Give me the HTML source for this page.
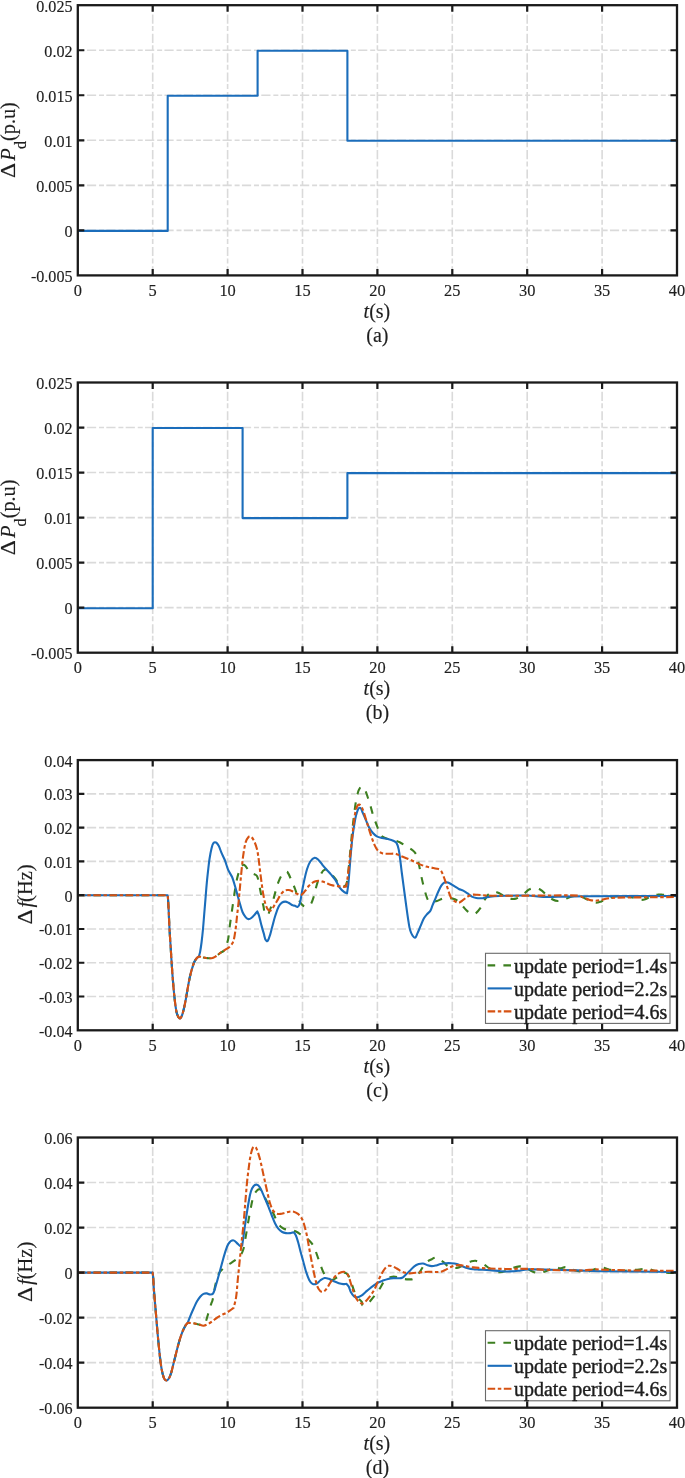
<!DOCTYPE html><html><head><meta charset="utf-8"><style>html,body{margin:0;padding:0;background:#fff;width:685px;height:1478px;overflow:hidden}svg{display:block}text{font-family:"Liberation Serif",serif;fill:#1e1e1e;stroke:#1e1e1e;stroke-width:0.15px}svg{will-change:transform}</style></head><body>
<svg width="685" height="1478" viewBox="0 0 685 1478">
<path d="M77.80 50.23H677.00M77.80 95.27H677.00M77.80 140.30H677.00M77.80 185.33H677.00M77.80 230.37H677.00" stroke="#dadada" stroke-width="1.6" fill="none" stroke-dasharray="5 2.3 9.2 2.87" stroke-dashoffset="17.52"/>
<path d="M152.70 275.40V5.20M227.60 275.40V5.20M302.50 275.40V5.20M377.40 275.40V5.20M452.30 275.40V5.20M527.20 275.40V5.20M602.10 275.40V5.20" stroke="#dadada" stroke-width="1.6" fill="none" stroke-dasharray="5 2.3 9.2 2.87" stroke-dashoffset="7.37"/>
<path d="M77.8 230.9 L167.7 230.9 L167.7 95.8 L257.6 95.8 L257.6 50.7 L347.4 50.7 L347.4 140.8 L677.0 140.8" stroke="#1b6dbb" stroke-width="2.1" fill="none" stroke-linejoin="round"/>
<path d="M77.80 50.23h6.5M677.00 50.23h-6.5M77.80 95.27h6.5M677.00 95.27h-6.5M77.80 140.30h6.5M677.00 140.30h-6.5M77.80 185.33h6.5M677.00 185.33h-6.5M77.80 230.37h6.5M677.00 230.37h-6.5M152.70 275.40v-6.5M152.70 5.20v6.5M227.60 275.40v-6.5M227.60 5.20v6.5M302.50 275.40v-6.5M302.50 5.20v6.5M377.40 275.40v-6.5M377.40 5.20v6.5M452.30 275.40v-6.5M452.30 5.20v6.5M527.20 275.40v-6.5M527.20 5.20v6.5M602.10 275.40v-6.5M602.10 5.20v6.5" stroke="#1a1a1a" stroke-width="2.2" fill="none"/>
<rect x="77.80" y="5.20" width="599.20" height="270.20" fill="none" stroke="#1a1a1a" stroke-width="2.3"/>
<text transform="translate(72.6 281.80) scale(0.95 1)" font-size="17" text-anchor="end">-0.005</text>
<text transform="translate(72.6 236.77) scale(0.95 1)" font-size="17" text-anchor="end">0</text>
<text transform="translate(72.6 191.73) scale(0.95 1)" font-size="17" text-anchor="end">0.005</text>
<text transform="translate(72.6 146.70) scale(0.95 1)" font-size="17" text-anchor="end">0.01</text>
<text transform="translate(72.6 101.67) scale(0.95 1)" font-size="17" text-anchor="end">0.015</text>
<text transform="translate(72.6 56.63) scale(0.95 1)" font-size="17" text-anchor="end">0.02</text>
<text transform="translate(72.6 11.60) scale(0.95 1)" font-size="17" text-anchor="end">0.025</text>
<text x="77.80" y="295.90" font-size="16.4" text-anchor="middle">0</text>
<text x="152.70" y="295.90" font-size="16.4" text-anchor="middle">5</text>
<text x="227.60" y="295.90" font-size="16.4" text-anchor="middle">10</text>
<text x="302.50" y="295.90" font-size="16.4" text-anchor="middle">15</text>
<text x="377.40" y="295.90" font-size="16.4" text-anchor="middle">20</text>
<text x="452.30" y="295.90" font-size="16.4" text-anchor="middle">25</text>
<text x="527.20" y="295.90" font-size="16.4" text-anchor="middle">30</text>
<text x="602.10" y="295.90" font-size="16.4" text-anchor="middle">35</text>
<text x="677.00" y="295.90" font-size="16.4" text-anchor="middle">40</text>
<text x="376.90" y="318.10" font-size="20" text-anchor="middle"><tspan font-style="italic">t</tspan>(s)</text>
<text x="377.40" y="341.80" font-size="20" text-anchor="middle">(a)</text>
<g transform="translate(15.3 140.30) rotate(-90)"><g transform="translate(-36.85 0) scale(1.14,1)"><text x="-0.8" y="0" font-size="20.5">Δ</text></g><text x="-20.45" y="0" font-size="20.5" font-style="italic">P</text><text x="-8.8" y="10.8" font-size="16">d</text><text x="-0.65" y="0" font-size="20.2">(p.u)</text></g>
<path d="M77.80 427.53H677.00M77.80 472.57H677.00M77.80 517.60H677.00M77.80 562.63H677.00M77.80 607.67H677.00" stroke="#dadada" stroke-width="1.6" fill="none" stroke-dasharray="5 2.3 9.2 2.87" stroke-dashoffset="17.52"/>
<path d="M152.70 652.70V382.50M227.60 652.70V382.50M302.50 652.70V382.50M377.40 652.70V382.50M452.30 652.70V382.50M527.20 652.70V382.50M602.10 652.70V382.50" stroke="#dadada" stroke-width="1.6" fill="none" stroke-dasharray="5 2.3 9.2 2.87" stroke-dashoffset="7.37"/>
<path d="M77.8 608.2 L152.7 608.2 L152.7 428.0 L242.6 428.0 L242.6 518.1 L347.4 518.1 L347.4 473.1 L677.0 473.1" stroke="#1b6dbb" stroke-width="2.1" fill="none" stroke-linejoin="round"/>
<path d="M77.80 427.53h6.5M677.00 427.53h-6.5M77.80 472.57h6.5M677.00 472.57h-6.5M77.80 517.60h6.5M677.00 517.60h-6.5M77.80 562.63h6.5M677.00 562.63h-6.5M77.80 607.67h6.5M677.00 607.67h-6.5M152.70 652.70v-6.5M152.70 382.50v6.5M227.60 652.70v-6.5M227.60 382.50v6.5M302.50 652.70v-6.5M302.50 382.50v6.5M377.40 652.70v-6.5M377.40 382.50v6.5M452.30 652.70v-6.5M452.30 382.50v6.5M527.20 652.70v-6.5M527.20 382.50v6.5M602.10 652.70v-6.5M602.10 382.50v6.5" stroke="#1a1a1a" stroke-width="2.2" fill="none"/>
<rect x="77.80" y="382.50" width="599.20" height="270.20" fill="none" stroke="#1a1a1a" stroke-width="2.3"/>
<text transform="translate(72.6 659.10) scale(0.95 1)" font-size="17" text-anchor="end">-0.005</text>
<text transform="translate(72.6 614.07) scale(0.95 1)" font-size="17" text-anchor="end">0</text>
<text transform="translate(72.6 569.03) scale(0.95 1)" font-size="17" text-anchor="end">0.005</text>
<text transform="translate(72.6 524.00) scale(0.95 1)" font-size="17" text-anchor="end">0.01</text>
<text transform="translate(72.6 478.97) scale(0.95 1)" font-size="17" text-anchor="end">0.015</text>
<text transform="translate(72.6 433.93) scale(0.95 1)" font-size="17" text-anchor="end">0.02</text>
<text transform="translate(72.6 388.90) scale(0.95 1)" font-size="17" text-anchor="end">0.025</text>
<text x="77.80" y="673.20" font-size="16.4" text-anchor="middle">0</text>
<text x="152.70" y="673.20" font-size="16.4" text-anchor="middle">5</text>
<text x="227.60" y="673.20" font-size="16.4" text-anchor="middle">10</text>
<text x="302.50" y="673.20" font-size="16.4" text-anchor="middle">15</text>
<text x="377.40" y="673.20" font-size="16.4" text-anchor="middle">20</text>
<text x="452.30" y="673.20" font-size="16.4" text-anchor="middle">25</text>
<text x="527.20" y="673.20" font-size="16.4" text-anchor="middle">30</text>
<text x="602.10" y="673.20" font-size="16.4" text-anchor="middle">35</text>
<text x="677.00" y="673.20" font-size="16.4" text-anchor="middle">40</text>
<text x="376.90" y="695.40" font-size="20" text-anchor="middle"><tspan font-style="italic">t</tspan>(s)</text>
<text x="377.40" y="719.10" font-size="20" text-anchor="middle">(b)</text>
<g transform="translate(15.3 517.60) rotate(-90)"><g transform="translate(-36.85 0) scale(1.14,1)"><text x="-0.8" y="0" font-size="20.5">Δ</text></g><text x="-20.45" y="0" font-size="20.5" font-style="italic">P</text><text x="-8.8" y="10.8" font-size="16">d</text><text x="-0.65" y="0" font-size="20.2">(p.u)</text></g>
<path d="M77.80 793.88H677.00M77.80 827.65H677.00M77.80 861.42H677.00M77.80 895.20H677.00M77.80 928.98H677.00M77.80 962.75H677.00M77.80 996.52H677.00" stroke="#dadada" stroke-width="1.6" fill="none" stroke-dasharray="5 2.3 9.2 2.87" stroke-dashoffset="17.52"/>
<path d="M152.70 1030.30V760.10M227.60 1030.30V760.10M302.50 1030.30V760.10M377.40 1030.30V760.10M452.30 1030.30V760.10M527.20 1030.30V760.10M602.10 1030.30V760.10" stroke="#dadada" stroke-width="1.6" fill="none" stroke-dasharray="5 2.3 9.2 2.87" stroke-dashoffset="7.37"/>
<path d="M77.80 895.20C107.70 895.20 137.60 895.20 167.50 895.20C167.63 895.90 167.84 896.59 167.90 897.30C168.21 901.26 168.40 905.23 168.60 909.20C168.93 915.80 169.14 922.40 169.50 929.00C169.81 934.67 170.24 940.33 170.60 946.00C170.94 951.33 171.24 956.67 171.60 962.00C171.98 967.67 172.34 973.34 172.80 979.00C173.30 985.17 173.81 991.35 174.50 997.50C175.04 1002.35 175.53 1007.22 176.50 1012.00C176.87 1013.85 177.59 1015.64 178.50 1017.30C178.80 1017.84 179.42 1018.63 180.00 1018.40C180.93 1018.03 181.42 1016.92 181.80 1016.00C182.67 1013.88 183.16 1011.62 183.70 1009.40C184.46 1006.29 185.10 1003.15 185.70 1000.00C186.44 996.11 187.00 992.19 187.70 988.30C188.33 984.79 188.95 981.28 189.70 977.80C190.28 975.11 190.93 972.44 191.70 969.80C192.47 967.17 193.19 964.51 194.30 962.00C194.94 960.54 195.87 959.21 196.90 958.00C197.43 957.38 198.09 956.71 198.90 956.60C200.01 956.45 201.10 957.09 202.20 957.30C203.53 957.55 204.85 957.87 206.20 958.00C207.96 958.17 209.75 958.47 211.50 958.20C212.89 957.99 214.19 957.32 215.40 956.60C217.28 955.47 218.91 953.97 220.70 952.70C221.78 951.94 223.21 951.56 224.00 950.50C225.25 948.83 225.91 946.77 226.60 944.80C227.34 942.69 227.93 940.51 228.30 938.30C229.03 933.93 229.31 929.49 229.90 925.10C230.58 919.99 231.37 914.90 232.10 909.80C232.83 904.70 233.51 899.59 234.30 894.50C234.98 890.09 235.62 885.67 236.50 881.30C237.09 878.37 237.76 875.44 238.70 872.60C239.40 870.49 240.11 868.31 241.40 866.50C242.02 865.63 243.26 864.38 244.20 864.90C246.24 866.02 246.88 868.73 248.50 870.40C249.67 871.61 251.09 872.58 252.50 873.50C253.86 874.39 255.92 874.43 256.80 875.80C258.23 878.04 258.30 880.91 258.90 883.50C259.74 887.14 260.36 890.83 261.10 894.50C261.83 898.13 262.35 901.82 263.30 905.40C264.19 908.76 263.71 913.37 266.60 915.30C268.38 916.49 269.05 911.76 269.90 909.80C271.27 906.64 272.21 903.30 273.20 900.00C274.41 896.00 275.32 891.91 276.50 887.90C277.15 885.68 277.83 883.45 278.70 881.30C279.47 879.41 280.29 877.52 281.40 875.80C282.31 874.39 283.28 872.90 284.70 872.00C285.46 871.52 286.85 871.28 287.40 872.00C289.48 874.73 290.39 878.18 291.80 881.30C292.95 883.84 294.11 886.39 295.10 889.00C296.32 892.23 297.04 895.63 298.40 898.80C299.22 900.72 300.24 902.61 301.60 904.20C302.46 905.20 303.59 906.22 304.90 906.40C306.56 906.62 308.58 906.45 309.80 905.30C311.59 903.62 312.31 901.03 313.10 898.70C314.68 894.06 315.45 889.18 316.90 884.50C317.82 881.51 318.71 878.46 320.20 875.70C321.44 873.40 322.48 870.19 325.00 869.50C326.96 868.96 328.49 871.64 330.00 873.00C332.01 874.82 333.82 876.87 335.50 879.00C337.13 881.08 337.91 883.86 339.90 885.60C341.04 886.60 342.83 886.33 344.30 886.70C345.03 885.80 346.20 885.12 346.50 884.00C347.56 880.10 347.84 876.02 348.30 872.00C349.07 865.35 349.57 858.67 350.20 852.00C350.90 844.67 351.53 837.33 352.30 830.00C352.90 824.33 353.58 818.66 354.30 813.00C354.81 808.99 355.33 804.98 356.00 801.00C356.40 798.65 356.88 796.30 357.50 794.00C357.94 792.36 358.33 790.66 359.20 789.20C359.87 788.09 360.70 786.50 362.00 786.50C363.27 786.50 364.11 788.07 364.70 789.20C366.15 791.98 366.99 795.03 368.00 798.00C368.99 800.90 369.83 803.86 370.70 806.80C371.66 810.06 372.44 813.37 373.50 816.60C374.48 819.58 375.66 822.48 376.80 825.40C377.66 827.58 378.41 829.82 379.50 831.90C380.42 833.67 381.22 835.68 382.80 836.90C384.48 838.20 386.76 838.48 388.80 839.10C390.97 839.75 393.23 840.06 395.40 840.70C396.87 841.13 398.33 841.61 399.70 842.30C401.98 843.45 404.13 844.85 406.30 846.20C408.53 847.59 410.89 848.81 412.90 850.50C414.22 851.61 415.44 852.95 416.20 854.50C417.28 856.72 417.73 859.20 418.30 861.60C419.33 865.94 420.07 870.34 421.00 874.70C421.70 878.01 422.39 881.32 423.20 884.60C424.02 887.92 424.81 891.26 425.90 894.50C426.65 896.74 427.21 899.17 428.70 901.00C429.43 901.89 430.85 902.00 432.00 902.00C433.67 902.00 435.32 901.52 436.90 901.00C438.80 900.38 440.48 899.17 442.40 898.60C443.88 898.16 445.45 897.97 447.00 898.00C449.12 898.04 451.28 898.18 453.30 898.80C455.27 899.40 457.19 900.32 458.80 901.60C460.48 902.94 461.56 904.90 463.00 906.50C464.50 908.17 465.85 910.00 467.60 911.40C468.86 912.40 470.40 913.01 471.90 913.60C472.79 913.95 473.91 914.74 474.70 914.20C477.16 912.53 478.99 910.03 480.70 907.60C482.12 905.59 482.82 903.16 484.00 901.00C484.82 899.49 485.74 898.03 486.70 896.60C487.24 895.79 487.70 894.86 488.50 894.30C490.12 893.16 491.82 891.76 493.80 891.60C495.82 891.44 497.76 892.55 499.60 893.40C501.66 894.36 503.34 896.03 505.40 897.00C507.27 897.88 509.25 898.62 511.30 898.90C512.99 899.13 514.79 899.06 516.40 898.50C518.78 897.67 520.94 896.26 523.00 894.80C525.10 893.31 526.64 891.10 528.80 889.70C530.10 888.86 531.65 888.20 533.20 888.20C535.68 888.20 538.28 888.58 540.50 889.70C542.80 890.86 544.30 893.18 546.30 894.80C548.20 896.35 550.03 898.05 552.20 899.20C553.99 900.15 555.98 901.00 558.00 901.00C560.28 901.00 562.43 899.90 564.60 899.20C567.30 898.33 569.88 897.09 572.60 896.30C574.36 895.79 576.20 894.99 578.00 895.30C580.62 895.75 582.89 897.38 585.30 898.50C587.26 899.41 589.09 900.61 591.10 901.40C592.74 902.05 594.44 902.80 596.20 902.80C598.00 902.80 599.69 901.96 601.40 901.40C603.37 900.76 605.27 899.93 607.20 899.20C609.13 898.47 610.97 897.37 613.00 897.00C616.85 896.30 620.79 895.75 624.70 896.00C628.68 896.26 632.52 897.56 636.40 898.50C637.90 898.86 639.27 899.78 640.80 899.90C642.28 900.02 643.80 899.69 645.20 899.20C647.24 898.48 648.97 897.03 651.00 896.30C653.36 895.45 655.81 894.82 658.30 894.50C659.76 894.31 661.23 894.68 662.70 894.80C667.47 895.18 672.23 895.60 677.00 896.00" stroke="#3d7f20" stroke-dasharray="7.6 8.2" stroke-width="2.1" fill="none" stroke-linejoin="round"/><path d="M77.80 895.20C107.70 895.20 137.60 895.20 167.50 895.20C167.63 895.90 167.84 896.59 167.90 897.30C168.21 901.26 168.40 905.23 168.60 909.20C168.93 915.80 169.14 922.40 169.50 929.00C169.81 934.67 170.24 940.33 170.60 946.00C170.94 951.33 171.24 956.67 171.60 962.00C171.98 967.67 172.34 973.34 172.80 979.00C173.30 985.17 173.81 991.35 174.50 997.50C175.04 1002.35 175.53 1007.22 176.50 1012.00C176.87 1013.85 177.59 1015.64 178.50 1017.30C178.80 1017.84 179.42 1018.63 180.00 1018.40C180.93 1018.03 181.42 1016.92 181.80 1016.00C182.67 1013.88 183.16 1011.62 183.70 1009.40C184.46 1006.29 185.10 1003.15 185.70 1000.00C186.44 996.11 187.00 992.19 187.70 988.30C188.33 984.79 188.95 981.28 189.70 977.80C190.28 975.11 190.93 972.44 191.70 969.80C192.47 967.17 193.19 964.51 194.30 962.00C194.94 960.54 195.87 959.21 196.90 958.00C197.43 957.38 198.23 957.07 198.90 956.60C199.33 954.87 199.88 953.16 200.20 951.40C200.78 948.28 201.20 945.14 201.60 942.00C202.10 938.01 202.52 934.01 202.90 930.00C203.39 924.80 203.77 919.60 204.20 914.40C204.64 909.13 205.07 903.87 205.50 898.60C205.93 893.33 206.31 888.06 206.80 882.80C207.21 878.39 207.70 874.00 208.20 869.60C208.60 866.06 208.95 862.52 209.50 859.00C210.05 855.48 210.65 851.96 211.50 848.50C211.95 846.68 212.27 844.70 213.40 843.20C213.94 842.48 215.19 842.10 216.00 842.50C217.28 843.13 218.03 844.55 218.70 845.80C219.82 847.88 220.37 850.23 221.30 852.40C222.47 855.13 223.91 857.74 225.00 860.50C226.25 863.68 226.95 867.06 228.30 870.20C229.33 872.59 231.08 874.61 232.10 877.00C233.29 879.80 234.03 882.78 234.90 885.70C235.87 888.95 236.69 892.24 237.60 895.50C238.32 898.07 239.04 900.64 239.80 903.20C240.67 906.14 241.31 909.17 242.50 912.00C243.32 913.94 244.44 915.79 245.80 917.40C246.49 918.21 247.44 918.98 248.50 919.10C249.50 919.21 250.49 918.59 251.30 918.00C252.56 917.09 253.55 915.85 254.60 914.70C255.56 913.65 256.40 912.50 257.30 911.40C257.83 912.70 258.49 913.95 258.90 915.30C259.76 918.16 260.32 921.11 261.10 924.00C261.99 927.31 262.84 930.64 263.90 933.90C264.68 936.31 264.44 939.68 266.60 941.00C267.93 941.81 268.72 938.64 269.30 937.20C270.58 934.02 271.18 930.60 272.10 927.30C273.21 923.30 274.15 919.25 275.40 915.30C276.35 912.31 277.26 909.28 278.70 906.50C279.46 905.03 280.58 903.70 281.90 902.70C282.83 902.00 284.04 901.60 285.20 901.60C286.36 901.60 287.46 902.19 288.50 902.70C290.04 903.46 291.35 904.66 292.90 905.40C293.54 905.71 294.32 905.59 295.00 905.80C295.93 906.09 296.85 907.37 297.70 906.90C298.98 906.19 299.51 904.51 299.90 903.10C300.99 899.18 301.34 895.09 302.10 891.10C302.80 887.43 303.48 883.75 304.30 880.10C305.12 876.45 305.85 872.76 307.00 869.20C307.86 866.54 308.75 863.82 310.30 861.50C311.38 859.89 312.80 858.07 314.70 857.70C316.14 857.42 317.42 858.91 318.50 859.90C320.03 861.32 321.07 863.19 322.40 864.80C323.64 866.29 324.91 867.75 326.20 869.20C327.81 871.02 329.52 872.75 331.10 874.60C332.62 876.39 334.20 878.15 335.50 880.10C337.14 882.56 338.16 885.41 339.90 887.80C341.12 889.48 342.66 890.93 344.30 892.20C345.07 892.80 346.10 892.93 347.00 893.30C347.43 890.37 347.98 887.45 348.30 884.50C348.78 880.14 349.04 875.77 349.40 871.40C349.94 864.80 350.40 858.19 351.00 851.60C351.50 846.13 352.01 840.65 352.70 835.20C353.31 830.45 354.02 825.71 354.90 821.00C355.45 818.04 355.95 815.03 357.00 812.20C357.60 810.57 358.06 807.80 359.80 807.80C361.52 807.80 361.74 810.66 362.50 812.20C363.74 814.70 364.70 817.33 365.80 819.90C366.90 822.47 367.77 825.14 369.10 827.60C370.15 829.54 371.44 831.35 372.90 833.00C374.03 834.28 375.30 835.49 376.80 836.30C378.46 837.19 380.37 837.53 382.20 838.00C384.01 838.47 385.88 838.65 387.70 839.10C389.55 839.56 391.45 839.94 393.20 840.70C394.41 841.22 395.80 841.78 396.50 842.90C397.73 844.87 398.21 847.23 398.70 849.50C399.48 853.09 399.81 856.76 400.30 860.40C400.88 864.76 401.34 869.14 401.90 873.50C402.61 879.00 403.36 884.50 404.10 890.00C404.83 895.47 405.54 900.94 406.30 906.40C407.01 911.50 407.68 916.61 408.50 921.70C408.95 924.48 409.32 927.29 410.10 930.00C410.66 931.92 411.43 933.81 412.50 935.50C413.10 936.44 413.95 938.06 415.00 937.70C416.39 937.23 416.57 935.22 417.20 933.90C418.40 931.38 419.40 928.77 420.50 926.20C421.60 923.63 422.47 920.96 423.80 918.50C424.65 916.93 425.84 915.56 427.00 914.20C428.01 913.02 429.48 912.22 430.30 910.90C431.35 909.23 431.75 907.22 432.50 905.40C433.41 903.19 434.37 901.00 435.30 898.80C436.21 896.64 437.02 894.43 438.00 892.30C439.02 890.06 439.94 887.75 441.30 885.70C442.16 884.41 443.29 883.24 444.60 882.40C445.22 882.00 446.07 882.27 446.80 882.20C447.87 882.63 448.98 882.96 450.00 883.50C451.52 884.30 452.94 885.29 454.40 886.20C455.87 887.12 457.25 888.22 458.80 889.00C460.20 889.70 461.80 889.90 463.20 890.60C464.75 891.38 466.17 892.41 467.60 893.40C469.07 894.41 470.32 895.76 471.90 896.60C473.26 897.32 474.79 897.71 476.30 898.00C477.74 898.28 479.23 898.35 480.70 898.30C482.18 898.25 483.64 897.97 485.10 897.70C486.75 897.40 488.34 896.79 490.00 896.60C493.18 896.23 496.40 896.09 499.60 896.00C508.83 895.73 518.07 895.29 527.30 895.50C532.69 895.62 538.01 896.79 543.40 897.00C548.26 897.19 553.13 896.78 558.00 896.70C567.00 896.55 576.00 896.35 585.00 896.30C615.67 896.12 646.33 896.10 677.00 896.00" stroke="#1b6dbb" stroke-width="2.1" fill="none" stroke-linejoin="round"/><path d="M77.80 895.20C107.70 895.20 137.60 895.20 167.50 895.20C167.63 895.90 167.84 896.59 167.90 897.30C168.21 901.26 168.40 905.23 168.60 909.20C168.93 915.80 169.14 922.40 169.50 929.00C169.81 934.67 170.24 940.33 170.60 946.00C170.94 951.33 171.24 956.67 171.60 962.00C171.98 967.67 172.34 973.34 172.80 979.00C173.30 985.17 173.81 991.35 174.50 997.50C175.04 1002.35 175.53 1007.22 176.50 1012.00C176.87 1013.85 177.59 1015.64 178.50 1017.30C178.80 1017.84 179.42 1018.63 180.00 1018.40C180.93 1018.03 181.42 1016.92 181.80 1016.00C182.67 1013.88 183.16 1011.62 183.70 1009.40C184.46 1006.29 185.10 1003.15 185.70 1000.00C186.44 996.11 187.00 992.19 187.70 988.30C188.33 984.79 188.95 981.28 189.70 977.80C190.28 975.11 190.93 972.44 191.70 969.80C192.47 967.17 193.19 964.51 194.30 962.00C194.94 960.54 195.87 959.21 196.90 958.00C197.43 957.38 198.09 956.71 198.90 956.60C200.01 956.45 201.10 957.09 202.20 957.30C203.53 957.55 204.85 957.87 206.20 958.00C207.96 958.17 209.75 958.47 211.50 958.20C212.89 957.99 214.19 957.32 215.40 956.60C217.28 955.47 218.91 953.97 220.70 952.70C222.11 951.70 223.55 950.75 225.00 949.80C226.45 948.85 228.18 948.24 229.40 947.00C230.97 945.41 232.43 943.59 233.20 941.50C234.47 938.02 234.85 934.26 235.40 930.60C236.11 925.89 236.47 921.13 237.00 916.40C237.57 911.27 238.18 906.14 238.70 901.00C239.28 895.17 239.75 889.33 240.30 883.50C240.85 877.67 241.37 871.83 242.00 866.00C242.47 861.59 242.91 857.18 243.60 852.80C244.18 849.14 244.70 845.44 245.80 841.90C246.35 840.12 247.26 838.39 248.50 837.00C249.01 836.43 250.07 835.97 250.70 836.40C252.21 837.44 253.17 839.16 254.00 840.80C255.23 843.24 256.09 845.86 256.80 848.50C257.56 851.35 257.97 854.28 258.40 857.20C259.04 861.59 259.45 866.00 260.00 870.40C260.55 874.77 261.10 879.14 261.70 883.50C262.20 887.17 262.63 890.86 263.30 894.50C263.90 897.79 264.48 901.11 265.50 904.30C266.12 906.25 266.82 908.29 268.20 909.80C268.84 910.50 270.19 910.79 271.00 910.30C272.33 909.50 272.86 907.81 273.70 906.50C274.86 904.70 275.91 902.84 277.00 901.00C278.28 898.84 279.31 896.52 280.80 894.50C281.89 893.02 283.11 891.53 284.70 890.60C285.81 889.95 287.22 889.90 288.50 890.00C289.82 890.10 291.08 890.66 292.30 891.20C293.67 891.80 294.83 892.82 296.20 893.40C297.74 894.06 299.38 895.33 301.00 894.90C302.75 894.44 303.70 892.46 304.90 891.10C306.44 889.35 307.55 887.25 309.20 885.60C310.68 884.12 312.32 882.73 314.20 881.80C315.70 881.06 317.43 880.62 319.10 880.70C321.01 880.79 322.80 881.66 324.60 882.30C326.81 883.09 328.85 884.35 331.10 885.00C333.24 885.62 335.49 885.82 337.70 886.10C339.89 886.38 342.10 886.54 344.30 886.70C344.90 886.74 345.50 886.70 346.10 886.70C346.63 883.40 347.26 880.11 347.70 876.80C348.53 870.61 349.19 864.40 349.90 858.20C350.65 851.64 351.37 845.07 352.10 838.50C352.83 831.93 353.36 825.34 354.30 818.80C354.83 815.10 355.28 811.33 356.50 807.80C356.96 806.48 357.83 804.35 359.20 804.60C360.98 804.93 361.74 807.26 362.50 808.90C363.97 812.05 364.74 815.49 365.80 818.80C366.74 821.72 367.58 824.67 368.50 827.60C369.41 830.51 370.30 833.42 371.30 836.30C372.33 839.26 373.30 842.25 374.60 845.10C375.47 847.00 376.38 848.97 377.80 850.50C378.98 851.78 380.53 852.80 382.20 853.30C384.31 853.93 386.60 853.72 388.80 853.80C391.00 853.88 393.23 853.46 395.40 853.80C396.92 854.04 398.27 854.92 399.70 855.50C401.90 856.39 404.11 857.29 406.30 858.20C408.51 859.12 410.72 860.02 412.90 861.00C415.46 862.15 417.92 863.51 420.50 864.60C422.29 865.35 424.13 865.99 426.00 866.50C427.77 866.99 429.60 867.24 431.40 867.60C433.23 867.97 435.11 868.16 436.90 868.70C438.23 869.10 439.72 869.42 440.70 870.40C441.84 871.54 442.24 873.23 442.90 874.70C443.54 876.13 444.07 877.62 444.60 879.10C445.37 881.29 446.08 883.50 446.80 885.70C447.52 887.90 448.12 890.13 448.90 892.30C449.56 894.13 450.06 896.06 451.10 897.70C451.93 899.01 453.10 900.15 454.40 901.00C455.72 901.86 457.24 902.90 458.80 902.70C460.53 902.48 461.77 900.89 463.20 899.90C464.71 898.86 466.02 897.53 467.60 896.60C468.94 895.81 470.37 895.08 471.90 894.80C473.70 894.47 475.57 894.72 477.40 894.80C479.24 894.88 481.06 895.15 482.90 895.30C485.27 895.49 487.63 895.79 490.00 895.80C506.67 895.89 523.33 895.64 540.00 895.60C552.67 895.57 565.35 894.99 578.00 895.60C580.05 895.70 581.87 896.99 583.80 897.70C585.77 898.42 587.67 899.38 589.70 899.90C591.59 900.38 593.55 900.70 595.50 900.70C597.48 900.70 599.45 900.27 601.40 899.90C603.35 899.53 605.23 898.80 607.20 898.50C610.11 898.06 613.06 897.81 616.00 897.70C622.80 897.44 629.60 897.48 636.40 897.40C649.93 897.24 663.47 897.13 677.00 897.00" stroke="#d65212" stroke-dasharray="7.6 2.6 3.5 2.5" stroke-dashoffset="0.7" stroke-width="2.1" fill="none" stroke-linejoin="round"/>
<path d="M77.80 793.88h6.5M677.00 793.88h-6.5M77.80 827.65h6.5M677.00 827.65h-6.5M77.80 861.42h6.5M677.00 861.42h-6.5M77.80 895.20h6.5M677.00 895.20h-6.5M77.80 928.98h6.5M677.00 928.98h-6.5M77.80 962.75h6.5M677.00 962.75h-6.5M77.80 996.52h6.5M677.00 996.52h-6.5M152.70 1030.30v-6.5M152.70 760.10v6.5M227.60 1030.30v-6.5M227.60 760.10v6.5M302.50 1030.30v-6.5M302.50 760.10v6.5M377.40 1030.30v-6.5M377.40 760.10v6.5M452.30 1030.30v-6.5M452.30 760.10v6.5M527.20 1030.30v-6.5M527.20 760.10v6.5M602.10 1030.30v-6.5M602.10 760.10v6.5" stroke="#1a1a1a" stroke-width="2.2" fill="none"/>
<rect x="77.80" y="760.10" width="599.20" height="270.20" fill="none" stroke="#1a1a1a" stroke-width="2.3"/>
<text transform="translate(72.6 1036.70) scale(0.95 1)" font-size="17" text-anchor="end">-0.04</text>
<text transform="translate(72.6 1002.92) scale(0.95 1)" font-size="17" text-anchor="end">-0.03</text>
<text transform="translate(72.6 969.15) scale(0.95 1)" font-size="17" text-anchor="end">-0.02</text>
<text transform="translate(72.6 935.37) scale(0.95 1)" font-size="17" text-anchor="end">-0.01</text>
<text transform="translate(72.6 901.60) scale(0.95 1)" font-size="17" text-anchor="end">0</text>
<text transform="translate(72.6 867.82) scale(0.95 1)" font-size="17" text-anchor="end">0.01</text>
<text transform="translate(72.6 834.05) scale(0.95 1)" font-size="17" text-anchor="end">0.02</text>
<text transform="translate(72.6 800.27) scale(0.95 1)" font-size="17" text-anchor="end">0.03</text>
<text transform="translate(72.6 766.50) scale(0.95 1)" font-size="17" text-anchor="end">0.04</text>
<text x="77.80" y="1050.80" font-size="16.4" text-anchor="middle">0</text>
<text x="152.70" y="1050.80" font-size="16.4" text-anchor="middle">5</text>
<text x="227.60" y="1050.80" font-size="16.4" text-anchor="middle">10</text>
<text x="302.50" y="1050.80" font-size="16.4" text-anchor="middle">15</text>
<text x="377.40" y="1050.80" font-size="16.4" text-anchor="middle">20</text>
<text x="452.30" y="1050.80" font-size="16.4" text-anchor="middle">25</text>
<text x="527.20" y="1050.80" font-size="16.4" text-anchor="middle">30</text>
<text x="602.10" y="1050.80" font-size="16.4" text-anchor="middle">35</text>
<text x="677.00" y="1050.80" font-size="16.4" text-anchor="middle">40</text>
<text x="376.90" y="1073.00" font-size="20" text-anchor="middle"><tspan font-style="italic">t</tspan>(s)</text>
<text x="377.40" y="1096.70" font-size="20" text-anchor="middle">(c)</text>
<g transform="translate(31.8 895.20) rotate(-90)"><g transform="translate(-28.4 0) scale(1.14,1)"><text x="-0.8" y="0" font-size="20.5">Δ</text></g><text x="-12.4" y="0" font-size="20.5"><tspan font-style="italic">f</tspan>(Hz)</text></g>
<path d="M77.80 1182.53H677.00M77.80 1227.57H677.00M77.80 1272.60H677.00M77.80 1317.63H677.00M77.80 1362.67H677.00" stroke="#dadada" stroke-width="1.6" fill="none" stroke-dasharray="5 2.3 9.2 2.87" stroke-dashoffset="17.52"/>
<path d="M152.70 1407.70V1137.50M227.60 1407.70V1137.50M302.50 1407.70V1137.50M377.40 1407.70V1137.50M452.30 1407.70V1137.50M527.20 1407.70V1137.50M602.10 1407.70V1137.50" stroke="#dadada" stroke-width="1.6" fill="none" stroke-dasharray="5 2.3 9.2 2.87" stroke-dashoffset="7.37"/>
<path d="M77.80 1272.60C102.73 1272.60 127.67 1272.60 152.60 1272.60C152.77 1273.87 153.00 1275.13 153.10 1276.40C153.47 1281.16 153.65 1285.94 154.00 1290.70C154.32 1295.07 154.73 1299.43 155.10 1303.80C155.53 1308.90 155.97 1314.00 156.40 1319.10C156.83 1324.23 157.23 1329.37 157.70 1334.50C158.17 1339.60 158.66 1344.70 159.20 1349.80C159.70 1354.54 160.14 1359.28 160.80 1364.00C161.21 1366.95 161.68 1369.91 162.40 1372.80C162.95 1375.02 163.45 1377.32 164.60 1379.30C165.01 1380.01 166.00 1380.58 166.80 1380.40C167.79 1380.18 168.49 1379.18 169.00 1378.30C169.99 1376.59 170.62 1374.69 171.20 1372.80C172.09 1369.91 172.66 1366.93 173.40 1364.00C174.13 1361.10 174.87 1358.20 175.60 1355.30C176.34 1352.37 177.02 1349.42 177.80 1346.50C178.49 1343.92 179.19 1341.34 180.00 1338.80C180.82 1336.24 181.68 1333.69 182.70 1331.20C183.48 1329.31 184.35 1327.45 185.40 1325.70C186.00 1324.70 186.58 1323.55 187.60 1323.00C188.42 1322.56 189.47 1322.93 190.40 1323.00C191.84 1323.10 193.28 1323.24 194.70 1323.50C196.19 1323.77 197.63 1324.23 199.10 1324.60C200.57 1324.97 202.03 1325.33 203.50 1325.70C204.17 1324.63 205.03 1323.67 205.50 1322.50C206.51 1319.97 207.10 1317.30 207.90 1314.70C208.60 1312.40 209.30 1310.10 210.00 1307.80C210.40 1306.47 210.75 1305.12 211.20 1303.80C211.55 1302.75 212.10 1301.77 212.40 1300.70C212.83 1299.19 213.11 1297.64 213.40 1296.10C214.08 1292.51 214.44 1288.85 215.30 1285.30C216.27 1281.30 217.17 1277.23 218.90 1273.50C219.79 1271.59 221.51 1270.19 223.00 1268.70C224.29 1267.41 225.71 1266.26 227.20 1265.20C228.49 1264.28 229.97 1263.65 231.30 1262.80C232.73 1261.88 234.11 1260.89 235.50 1259.90C236.88 1258.92 238.57 1258.25 239.60 1256.90C241.21 1254.79 242.41 1252.33 243.20 1249.80C244.39 1245.97 244.79 1241.94 245.50 1238.00C246.36 1233.24 247.06 1228.46 247.90 1223.70C248.66 1219.36 249.45 1215.02 250.30 1210.70C251.11 1206.59 251.70 1202.42 252.90 1198.40C253.61 1196.01 254.47 1193.56 256.00 1191.60C256.95 1190.39 258.58 1188.71 260.00 1189.30C261.98 1190.12 262.44 1192.83 263.50 1194.70C264.71 1196.84 265.62 1199.14 266.80 1201.30C268.02 1203.54 269.49 1205.65 270.70 1207.90C271.86 1210.05 272.88 1212.28 273.90 1214.50C275.05 1217.01 275.87 1219.68 277.20 1222.10C278.08 1223.71 279.20 1225.20 280.50 1226.50C281.43 1227.43 282.58 1228.18 283.80 1228.70C285.19 1229.30 286.71 1229.53 288.20 1229.80C289.65 1230.06 291.17 1229.94 292.60 1230.30C294.09 1230.68 295.53 1231.30 296.90 1232.00C298.08 1232.60 299.09 1233.48 300.20 1234.20C301.76 1235.21 303.38 1236.13 304.90 1237.20C306.38 1238.24 307.93 1239.22 309.20 1240.50C310.85 1242.17 312.48 1243.94 313.60 1246.00C315.08 1248.73 315.83 1251.79 316.90 1254.70C317.83 1257.25 318.67 1259.84 319.60 1262.40C320.67 1265.34 321.58 1268.36 322.90 1271.20C323.79 1273.11 324.75 1275.06 326.20 1276.60C327.55 1278.03 329.16 1279.55 331.10 1279.90C332.64 1280.18 334.10 1279.00 335.50 1278.30C337.05 1277.52 338.46 1276.47 339.90 1275.50C341.19 1274.63 342.16 1273.00 343.70 1272.80C345.11 1272.62 346.67 1273.43 347.60 1274.50C349.18 1276.33 349.91 1278.75 350.80 1281.00C352.08 1284.23 352.80 1287.67 354.10 1290.90C355.01 1293.15 356.00 1295.42 357.40 1297.40C358.60 1299.09 360.68 1300.06 361.80 1301.80C362.45 1302.80 361.50 1304.66 362.50 1305.30C363.51 1305.95 364.93 1305.04 366.00 1304.50C367.32 1303.84 368.45 1302.83 369.50 1301.80C370.80 1300.52 371.85 1299.01 373.00 1297.60C374.18 1296.15 375.37 1294.70 376.50 1293.20C377.54 1291.83 378.57 1290.45 379.50 1289.00C380.91 1286.81 381.96 1284.40 383.50 1282.30C384.45 1281.01 385.54 1279.75 386.90 1278.90C388.57 1277.85 390.45 1277.00 392.40 1276.70C394.19 1276.42 396.03 1276.84 397.80 1277.20C399.68 1277.58 401.42 1278.52 403.30 1278.90C405.11 1279.26 406.96 1279.40 408.80 1279.40C410.28 1279.40 411.88 1279.56 413.20 1278.90C414.95 1278.02 416.34 1276.50 417.60 1275.00C419.27 1273.01 420.47 1270.67 421.90 1268.50C423.00 1266.83 423.98 1265.08 425.20 1263.50C425.82 1262.70 426.55 1261.95 427.40 1261.40C428.77 1260.50 430.32 1259.91 431.80 1259.20C433.19 1258.54 434.46 1257.34 436.00 1257.30C437.27 1257.27 438.34 1258.31 439.40 1259.00C440.95 1260.01 442.38 1261.21 443.80 1262.40C445.28 1263.64 446.44 1265.31 448.10 1266.30C449.41 1267.08 451.00 1267.33 452.50 1267.60C453.95 1267.86 455.45 1268.11 456.90 1267.90C458.44 1267.67 459.90 1266.99 461.30 1266.30C463.22 1265.35 464.89 1263.96 466.80 1263.00C468.17 1262.32 469.62 1261.77 471.10 1261.40C472.54 1261.04 474.03 1260.63 475.50 1260.80C477.05 1260.98 478.47 1261.78 479.90 1262.40C481.41 1263.05 482.91 1263.73 484.30 1264.60C485.85 1265.57 487.14 1266.93 488.70 1267.90C490.42 1268.97 492.22 1269.94 494.10 1270.70C495.87 1271.41 497.69 1272.21 499.60 1272.30C501.47 1272.38 503.32 1271.78 505.10 1271.20C507.34 1270.47 509.36 1269.15 511.60 1268.40C514.18 1267.54 516.79 1266.53 519.50 1266.40C521.71 1266.29 523.94 1266.90 526.00 1267.70C527.94 1268.46 529.40 1270.15 531.30 1271.00C533.40 1271.94 535.60 1272.88 537.90 1273.00C540.11 1273.12 542.29 1272.35 544.40 1271.70C546.67 1271.01 548.80 1269.90 551.00 1269.00C552.53 1268.37 553.94 1267.21 555.60 1267.10C557.19 1267.00 558.61 1268.40 560.20 1268.40C561.99 1268.40 563.62 1267.00 565.40 1267.10C567.27 1267.21 568.92 1268.42 570.70 1269.00C572.88 1269.72 575.05 1270.54 577.30 1271.00C579.43 1271.44 581.62 1271.70 583.80 1271.70C586.01 1271.70 588.26 1271.56 590.40 1271.00C593.87 1270.09 596.92 1267.54 600.50 1267.30C603.66 1267.09 606.57 1269.21 609.70 1269.70C614.06 1270.38 618.48 1270.80 622.90 1270.80C627.28 1270.80 631.63 1270.00 636.00 1269.70C639.93 1269.43 643.87 1268.84 647.80 1269.10C650.50 1269.28 653.05 1270.46 655.70 1271.00C658.75 1271.62 661.81 1272.21 664.90 1272.60C667.09 1272.88 669.30 1273.09 671.50 1273.00C673.36 1272.92 675.17 1272.40 677.00 1272.10" stroke="#3d7f20" stroke-dasharray="7.6 8.2" stroke-width="2.1" fill="none" stroke-linejoin="round"/><path d="M77.80 1272.60C102.73 1272.60 127.67 1272.60 152.60 1272.60C152.77 1273.87 153.00 1275.13 153.10 1276.40C153.47 1281.16 153.65 1285.94 154.00 1290.70C154.32 1295.07 154.73 1299.43 155.10 1303.80C155.53 1308.90 155.97 1314.00 156.40 1319.10C156.83 1324.23 157.23 1329.37 157.70 1334.50C158.17 1339.60 158.66 1344.70 159.20 1349.80C159.70 1354.54 160.14 1359.28 160.80 1364.00C161.21 1366.95 161.68 1369.91 162.40 1372.80C162.95 1375.02 163.45 1377.32 164.60 1379.30C165.01 1380.01 166.00 1380.58 166.80 1380.40C167.79 1380.18 168.49 1379.18 169.00 1378.30C169.99 1376.59 170.62 1374.69 171.20 1372.80C172.09 1369.91 172.66 1366.93 173.40 1364.00C174.13 1361.10 174.87 1358.20 175.60 1355.30C176.34 1352.37 177.02 1349.42 177.80 1346.50C178.49 1343.92 179.19 1341.34 180.00 1338.80C180.82 1336.24 181.68 1333.69 182.70 1331.20C183.48 1329.31 184.35 1327.45 185.40 1325.70C186.00 1324.70 186.87 1323.90 187.60 1323.00C188.53 1320.60 189.42 1318.18 190.40 1315.80C191.45 1313.25 192.55 1310.71 193.70 1308.20C194.72 1305.98 195.70 1303.73 196.90 1301.60C197.87 1299.89 198.92 1298.20 200.20 1296.70C201.14 1295.60 202.21 1294.55 203.50 1293.90C204.50 1293.40 205.69 1293.30 206.80 1293.40C207.95 1293.50 208.94 1294.46 210.10 1294.50C211.11 1294.53 212.46 1294.46 213.00 1293.60C214.56 1291.12 215.03 1288.10 215.90 1285.30C216.99 1281.79 217.92 1278.24 218.90 1274.70C219.89 1271.14 220.82 1267.56 221.80 1264.00C222.78 1260.43 223.64 1256.82 224.80 1253.30C225.85 1250.11 226.59 1246.73 228.40 1243.90C229.46 1242.24 231.13 1240.30 233.10 1240.30C235.07 1240.30 236.27 1242.66 237.80 1243.90C238.74 1244.66 239.37 1245.89 240.50 1246.30C241.09 1246.51 241.63 1245.77 242.20 1245.50C242.93 1240.27 243.66 1235.03 244.40 1229.80C245.12 1224.70 245.81 1219.59 246.60 1214.50C247.28 1210.09 247.98 1205.68 248.80 1201.30C249.41 1198.02 249.88 1194.68 250.90 1191.50C251.53 1189.54 252.33 1187.53 253.70 1186.00C254.49 1185.12 255.84 1184.49 257.00 1184.70C258.18 1184.92 259.02 1186.11 259.70 1187.10C260.85 1188.79 261.55 1190.74 262.40 1192.60C263.38 1194.74 264.27 1196.93 265.20 1199.10C266.30 1201.67 267.46 1204.21 268.50 1206.80C269.66 1209.68 270.66 1212.62 271.80 1215.50C272.82 1218.08 273.77 1220.71 275.00 1223.20C275.94 1225.12 276.95 1227.05 278.30 1228.70C279.38 1230.02 280.72 1231.16 282.20 1232.00C283.34 1232.65 284.69 1232.92 286.00 1233.10C287.45 1233.30 288.94 1233.21 290.40 1233.10C291.51 1233.01 292.66 1232.08 293.70 1232.50C294.78 1232.94 295.31 1234.24 295.80 1235.30C296.76 1237.38 297.36 1239.60 298.00 1241.80C298.93 1245.01 299.64 1248.27 300.50 1251.50C301.37 1254.77 302.30 1258.03 303.20 1261.30C304.10 1264.60 304.85 1267.94 305.90 1271.20C306.85 1274.15 307.76 1277.15 309.20 1279.90C309.99 1281.41 311.00 1282.99 312.50 1283.80C313.64 1284.42 315.21 1284.31 316.40 1283.80C317.94 1283.14 318.83 1281.47 320.20 1280.50C321.58 1279.53 322.94 1278.32 324.60 1278.00C326.03 1277.72 327.52 1278.32 328.90 1278.80C330.45 1279.33 331.80 1280.33 333.30 1281.00C335.10 1281.80 336.92 1282.61 338.80 1283.20C340.23 1283.65 341.71 1283.98 343.20 1284.10C344.30 1284.19 345.40 1283.90 346.50 1283.80C347.23 1284.70 348.16 1285.47 348.70 1286.50C349.61 1288.24 349.86 1290.28 350.80 1292.00C351.68 1293.61 352.68 1295.24 354.10 1296.40C354.99 1297.13 356.26 1297.51 357.40 1297.40C358.84 1297.26 360.19 1296.49 361.40 1295.70C362.89 1294.73 364.06 1293.36 365.40 1292.20C366.76 1291.03 368.09 1289.82 369.50 1288.70C371.03 1287.48 372.61 1286.34 374.20 1285.20C375.35 1284.37 376.45 1283.47 377.70 1282.80C379.20 1281.99 380.81 1281.40 382.40 1280.80C384.24 1280.10 386.08 1279.37 388.00 1278.90C389.80 1278.46 391.65 1278.20 393.50 1278.10C395.30 1278.00 397.10 1278.36 398.90 1278.30C400.01 1278.26 401.20 1278.30 402.20 1277.80C403.49 1277.15 404.44 1275.98 405.50 1275.00C407.01 1273.61 408.44 1272.14 409.90 1270.70C411.38 1269.24 412.64 1267.54 414.30 1266.30C415.61 1265.32 417.14 1264.60 418.70 1264.10C420.08 1263.66 421.56 1263.32 423.00 1263.50C424.56 1263.70 425.89 1264.75 427.40 1265.20C428.84 1265.62 430.30 1266.07 431.80 1266.10C433.28 1266.13 434.75 1265.73 436.20 1265.40C437.66 1265.06 439.04 1264.43 440.50 1264.10C442.31 1263.69 444.15 1263.35 446.00 1263.20C447.79 1263.05 449.61 1263.05 451.40 1263.20C453.25 1263.35 455.11 1263.60 456.90 1264.10C458.80 1264.64 460.55 1265.60 462.40 1266.30C464.19 1266.97 465.96 1267.69 467.80 1268.20C469.60 1268.70 471.45 1269.06 473.30 1269.30C475.12 1269.53 476.97 1269.51 478.80 1269.60C482.43 1269.78 486.07 1269.83 489.70 1270.10C493.38 1270.37 497.02 1270.96 500.70 1271.20C503.79 1271.40 506.90 1271.47 510.00 1271.40C512.71 1271.34 515.41 1271.11 518.10 1270.80C521.18 1270.44 524.20 1269.50 527.30 1269.40C535.20 1269.14 543.10 1269.54 551.00 1269.70C559.77 1269.88 568.53 1270.13 577.30 1270.40C585.90 1270.66 594.50 1271.16 603.10 1271.30C620.63 1271.59 638.17 1271.51 655.70 1271.70C662.80 1271.78 669.90 1271.97 677.00 1272.10" stroke="#1b6dbb" stroke-width="2.1" fill="none" stroke-linejoin="round"/><path d="M77.80 1272.60C102.73 1272.60 127.67 1272.60 152.60 1272.60C152.77 1273.87 153.00 1275.13 153.10 1276.40C153.47 1281.16 153.65 1285.94 154.00 1290.70C154.32 1295.07 154.73 1299.43 155.10 1303.80C155.53 1308.90 155.97 1314.00 156.40 1319.10C156.83 1324.23 157.23 1329.37 157.70 1334.50C158.17 1339.60 158.66 1344.70 159.20 1349.80C159.70 1354.54 160.14 1359.28 160.80 1364.00C161.21 1366.95 161.68 1369.91 162.40 1372.80C162.95 1375.02 163.45 1377.32 164.60 1379.30C165.01 1380.01 166.00 1380.58 166.80 1380.40C167.79 1380.18 168.49 1379.18 169.00 1378.30C169.99 1376.59 170.62 1374.69 171.20 1372.80C172.09 1369.91 172.66 1366.93 173.40 1364.00C174.13 1361.10 174.87 1358.20 175.60 1355.30C176.34 1352.37 177.02 1349.42 177.80 1346.50C178.49 1343.92 179.19 1341.34 180.00 1338.80C180.82 1336.24 181.68 1333.69 182.70 1331.20C183.48 1329.31 184.35 1327.45 185.40 1325.70C186.00 1324.70 186.58 1323.55 187.60 1323.00C188.42 1322.56 189.47 1322.93 190.40 1323.00C191.84 1323.10 193.28 1323.24 194.70 1323.50C196.19 1323.77 197.63 1324.23 199.10 1324.60C200.57 1324.97 201.99 1325.79 203.50 1325.70C205.06 1325.61 206.50 1324.80 207.90 1324.10C209.45 1323.32 210.88 1322.30 212.30 1321.30C213.55 1320.43 214.63 1319.34 215.90 1318.50C217.81 1317.24 219.79 1316.10 221.80 1315.00C223.76 1313.93 225.89 1313.16 227.80 1312.00C229.87 1310.75 231.73 1309.20 233.70 1307.80C234.50 1304.27 235.58 1300.79 236.10 1297.20C236.95 1291.30 237.22 1285.33 237.80 1279.40C238.38 1273.47 239.00 1267.53 239.60 1261.60C240.20 1255.70 240.79 1249.80 241.40 1243.90C242.09 1237.27 242.88 1230.64 243.50 1224.00C244.24 1216.07 244.83 1208.13 245.50 1200.20C246.03 1194.00 246.48 1187.79 247.10 1181.60C247.58 1176.86 248.18 1172.13 248.80 1167.40C249.28 1163.73 249.68 1160.03 250.40 1156.40C250.95 1153.62 251.44 1150.78 252.60 1148.20C252.97 1147.37 253.95 1146.27 254.80 1146.60C256.03 1147.08 256.46 1148.69 257.00 1149.90C257.94 1151.99 258.57 1154.20 259.20 1156.40C260.04 1159.31 260.72 1162.25 261.40 1165.20C262.15 1168.45 262.79 1171.74 263.50 1175.00C264.22 1178.30 264.96 1181.60 265.70 1184.90C266.43 1188.17 267.13 1191.44 267.90 1194.70C268.60 1197.64 269.18 1200.62 270.10 1203.50C270.82 1205.77 271.57 1208.07 272.80 1210.10C273.61 1211.43 274.70 1212.71 276.10 1213.40C277.42 1214.05 279.03 1214.00 280.50 1213.90C282.01 1213.80 283.43 1213.17 284.90 1212.80C286.37 1212.43 287.80 1211.89 289.30 1211.70C290.76 1211.52 292.28 1211.34 293.70 1211.70C295.26 1212.09 296.74 1212.90 298.00 1213.90C299.32 1214.94 300.40 1216.29 301.30 1217.70C302.25 1219.18 302.91 1220.84 303.50 1222.50C304.25 1224.62 304.74 1226.82 305.30 1229.00C305.91 1231.36 306.52 1233.72 307.00 1236.10C307.82 1240.12 308.46 1244.17 309.20 1248.20C309.93 1252.20 310.64 1256.21 311.40 1260.20C312.10 1263.87 312.83 1267.54 313.60 1271.20C314.29 1274.48 314.90 1277.78 315.80 1281.00C316.53 1283.62 317.10 1286.37 318.50 1288.70C319.38 1290.16 320.70 1291.89 322.40 1292.00C323.97 1292.10 325.17 1290.39 326.20 1289.20C327.75 1287.41 328.66 1285.15 330.00 1283.20C331.40 1281.15 332.74 1279.05 334.40 1277.20C335.69 1275.76 337.16 1274.43 338.80 1273.40C340.13 1272.57 341.63 1271.82 343.20 1271.70C344.36 1271.61 345.63 1272.03 346.50 1272.80C347.59 1273.77 348.14 1275.25 348.70 1276.60C349.58 1278.73 350.10 1281.00 350.80 1283.20C351.73 1286.13 352.56 1289.10 353.60 1292.00C354.39 1294.21 355.13 1296.47 356.30 1298.50C357.15 1299.98 358.24 1301.37 359.60 1302.40C360.52 1303.10 361.77 1303.75 362.90 1303.50C364.20 1303.22 365.06 1301.94 366.00 1301.00C367.27 1299.73 368.39 1298.32 369.50 1296.90C370.53 1295.58 371.49 1294.21 372.40 1292.80C373.26 1291.47 374.09 1290.12 374.80 1288.70C375.56 1287.18 376.12 1285.56 376.80 1284.00C377.49 1282.43 378.17 1280.85 378.90 1279.30C379.63 1277.75 380.40 1276.22 381.20 1274.70C381.93 1273.31 382.65 1271.91 383.50 1270.60C384.25 1269.44 384.98 1268.23 386.00 1267.30C386.78 1266.59 387.75 1265.96 388.80 1265.80C390.00 1265.61 391.25 1265.91 392.40 1266.30C393.95 1266.82 395.37 1267.70 396.80 1268.50C398.27 1269.33 399.58 1270.45 401.10 1271.20C402.50 1271.89 403.99 1272.42 405.50 1272.80C406.94 1273.16 408.42 1273.40 409.90 1273.40C411.74 1273.40 413.57 1273.00 415.40 1272.80C417.57 1272.57 419.73 1272.27 421.90 1272.10C424.10 1271.93 426.30 1271.84 428.50 1271.80C432.50 1271.74 436.53 1272.30 440.50 1271.80C442.46 1271.55 444.21 1270.42 446.00 1269.60C447.84 1268.75 449.52 1267.56 451.40 1266.80C453.17 1266.09 455.00 1265.42 456.90 1265.20C458.72 1264.98 460.58 1265.28 462.40 1265.50C464.22 1265.72 466.00 1266.19 467.80 1266.50C469.63 1266.82 471.46 1267.17 473.30 1267.40C475.13 1267.63 476.96 1267.78 478.80 1267.90C482.43 1268.14 486.06 1268.37 489.70 1268.50C496.46 1268.74 503.23 1268.95 510.00 1269.00C512.70 1269.02 515.40 1268.70 518.10 1268.70C522.50 1268.70 526.90 1268.83 531.30 1269.00C535.67 1269.17 540.03 1269.54 544.40 1269.70C553.16 1270.01 561.93 1270.24 570.70 1270.40C575.07 1270.48 579.44 1270.58 583.80 1270.40C587.55 1270.25 591.25 1269.54 595.00 1269.40C597.70 1269.30 600.40 1269.62 603.10 1269.70C611.87 1269.95 620.63 1270.27 629.40 1270.40C645.27 1270.64 661.13 1270.67 677.00 1270.80" stroke="#d65212" stroke-dasharray="7.6 2.6 3.5 2.5" stroke-dashoffset="0.7" stroke-width="2.1" fill="none" stroke-linejoin="round"/>
<path d="M77.80 1182.53h6.5M677.00 1182.53h-6.5M77.80 1227.57h6.5M677.00 1227.57h-6.5M77.80 1272.60h6.5M677.00 1272.60h-6.5M77.80 1317.63h6.5M677.00 1317.63h-6.5M77.80 1362.67h6.5M677.00 1362.67h-6.5M152.70 1407.70v-6.5M152.70 1137.50v6.5M227.60 1407.70v-6.5M227.60 1137.50v6.5M302.50 1407.70v-6.5M302.50 1137.50v6.5M377.40 1407.70v-6.5M377.40 1137.50v6.5M452.30 1407.70v-6.5M452.30 1137.50v6.5M527.20 1407.70v-6.5M527.20 1137.50v6.5M602.10 1407.70v-6.5M602.10 1137.50v6.5" stroke="#1a1a1a" stroke-width="2.2" fill="none"/>
<rect x="77.80" y="1137.50" width="599.20" height="270.20" fill="none" stroke="#1a1a1a" stroke-width="2.3"/>
<text transform="translate(72.6 1414.10) scale(0.95 1)" font-size="17" text-anchor="end">-0.06</text>
<text transform="translate(72.6 1369.07) scale(0.95 1)" font-size="17" text-anchor="end">-0.04</text>
<text transform="translate(72.6 1324.03) scale(0.95 1)" font-size="17" text-anchor="end">-0.02</text>
<text transform="translate(72.6 1279.00) scale(0.95 1)" font-size="17" text-anchor="end">0</text>
<text transform="translate(72.6 1233.97) scale(0.95 1)" font-size="17" text-anchor="end">0.02</text>
<text transform="translate(72.6 1188.93) scale(0.95 1)" font-size="17" text-anchor="end">0.04</text>
<text transform="translate(72.6 1143.90) scale(0.95 1)" font-size="17" text-anchor="end">0.06</text>
<text x="77.80" y="1428.20" font-size="16.4" text-anchor="middle">0</text>
<text x="152.70" y="1428.20" font-size="16.4" text-anchor="middle">5</text>
<text x="227.60" y="1428.20" font-size="16.4" text-anchor="middle">10</text>
<text x="302.50" y="1428.20" font-size="16.4" text-anchor="middle">15</text>
<text x="377.40" y="1428.20" font-size="16.4" text-anchor="middle">20</text>
<text x="452.30" y="1428.20" font-size="16.4" text-anchor="middle">25</text>
<text x="527.20" y="1428.20" font-size="16.4" text-anchor="middle">30</text>
<text x="602.10" y="1428.20" font-size="16.4" text-anchor="middle">35</text>
<text x="677.00" y="1428.20" font-size="16.4" text-anchor="middle">40</text>
<text x="376.90" y="1450.40" font-size="20" text-anchor="middle"><tspan font-style="italic">t</tspan>(s)</text>
<text x="377.40" y="1474.10" font-size="20" text-anchor="middle">(d)</text>
<g transform="translate(31.8 1272.60) rotate(-90)"><g transform="translate(-28.4 0) scale(1.14,1)"><text x="-0.8" y="0" font-size="20.5">Δ</text></g><text x="-12.4" y="0" font-size="20.5"><tspan font-style="italic">f</tspan>(Hz)</text></g>
<rect x="485.5" y="953.3" width="184.5" height="70.10000000000002" fill="#fff" stroke="#6a6a6a" stroke-width="1.1"/><path d="M487.6 965.4H511.8" stroke="#3d7f20" stroke-width="2.1" stroke-dasharray="7.6 8.2"/><text x="513.9" y="972.6999999999999" font-size="20" style="stroke-width:0.4px">update period=1.4s</text><path d="M487.6 988.4H511.8" stroke="#1b6dbb" stroke-width="2.1" /><text x="513.9" y="995.6999999999999" font-size="20" style="stroke-width:0.4px">update period=2.2s</text><path d="M487.6 1011.4H511.8" stroke="#d65212" stroke-width="2.1" stroke-dasharray="7.6 2.6 3.5 2.5"/><text x="513.9" y="1018.6999999999999" font-size="20" style="stroke-width:0.4px">update period=4.6s</text>
<rect x="485.5" y="1330.6999999999998" width="184.5" height="70.10000000000014" fill="#fff" stroke="#6a6a6a" stroke-width="1.1"/><path d="M487.6 1342.7999999999997H511.8" stroke="#3d7f20" stroke-width="2.1" stroke-dasharray="7.6 8.2"/><text x="513.9" y="1350.0999999999997" font-size="20" style="stroke-width:0.4px">update period=1.4s</text><path d="M487.6 1365.7999999999997H511.8" stroke="#1b6dbb" stroke-width="2.1" /><text x="513.9" y="1373.0999999999997" font-size="20" style="stroke-width:0.4px">update period=2.2s</text><path d="M487.6 1388.7999999999997H511.8" stroke="#d65212" stroke-width="2.1" stroke-dasharray="7.6 2.6 3.5 2.5"/><text x="513.9" y="1396.0999999999997" font-size="20" style="stroke-width:0.4px">update period=4.6s</text>
</svg></body></html>
